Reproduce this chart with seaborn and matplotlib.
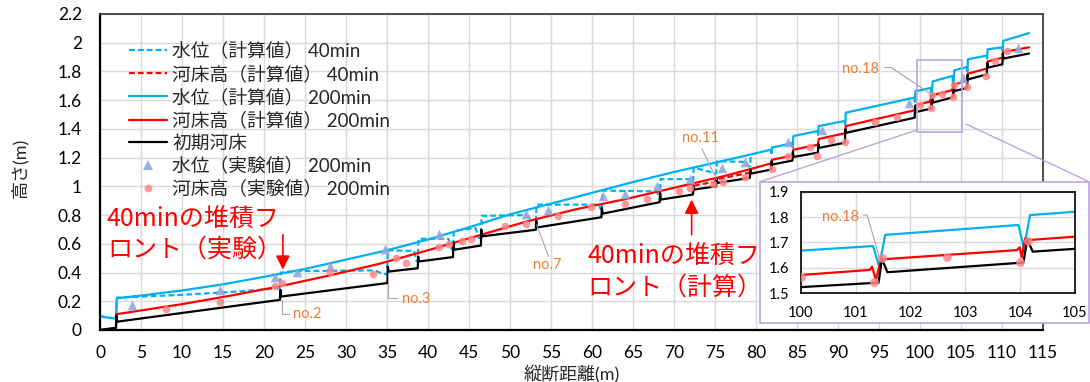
import matplotlib
matplotlib.use("Agg")
import matplotlib.pyplot as plt
from matplotlib.lines import Line2D
from matplotlib.patches import Rectangle
from matplotlib.ticker import FuncFormatter, MultipleLocator
import seaborn as sns

# ---------------- data ----------------
# 初期河床
bed0_x = [0.0, 1.95, 2.0, 2.1, 21.95, 22.0, 22.1, 35.05, 35.1, 35.2, 38.75, 38.8, 38.9,
          43.05, 43.1, 43.2, 46.45, 46.5, 46.6, 53.15, 53.2, 53.3, 61.15, 61.2, 61.3,
          68.25, 68.3, 68.4, 72.3, 72.35, 72.45, 75.15, 75.2, 75.3, 79.25, 79.3, 79.4,
          81.85, 81.9, 82.0, 84.45, 84.5, 84.6, 87.55, 87.6, 87.7, 90.85, 90.9, 91.0,
          99.35, 99.4, 99.5, 101.42, 101.48, 101.58, 104.06, 104.13, 104.23,
          105.75, 105.8, 105.9, 108.15, 108.2, 108.3, 110.05, 110.1, 110.2, 113.3]
bed0_y = [0.000, 0.015, 0.100, 0.058, 0.210, 0.280, 0.233, 0.327, 0.440, 0.407, 0.430, 0.512, 0.477,
          0.508, 0.607, 0.559, 0.588, 0.698, 0.652, 0.698, 0.760, 0.714, 0.785, 0.850, 0.810,
          0.890, 0.955, 0.908, 0.943, 1.000, 0.978, 1.000, 1.055, 1.024, 1.059, 1.115, 1.089,
          1.117, 1.175, 1.152, 1.180, 1.240, 1.205, 1.235, 1.295, 1.268, 1.304, 1.397, 1.373,
          1.478, 1.560, 1.518, 1.542, 1.636, 1.583, 1.621, 1.712, 1.664,
          1.686, 1.775, 1.745, 1.780, 1.860, 1.827, 1.850, 1.925, 1.890, 1.925]

# 河床高（計算値） 200min
bed200_x = [0.0, 1.95, 2.0, 10.0, 16.0, 22.0, 28.0, 34.0, 40.0, 46.0, 52.0, 58.0, 64.0, 70.0, 76.0, 79.3,
            81.85, 81.95, 84.45, 84.55, 87.55, 87.65, 90.85, 90.95, 99.35, 99.45, 100.0,
            101.26, 101.30, 101.37, 101.46, 101.50, 103.94, 103.99, 104.03, 104.09, 104.18, 105.0,
            105.75, 105.85, 108.15, 108.25, 110.05, 110.15, 113.3]
bed200_y = [0.000, 0.015, 0.110, 0.180, 0.240, 0.305, 0.380, 0.460, 0.555, 0.655, 0.755, 0.840, 0.910, 0.990, 1.070, 1.120,
            1.160, 1.185, 1.215, 1.255, 1.290, 1.330, 1.370, 1.420, 1.530, 1.565, 1.572,
            1.592, 1.605, 1.552, 1.631, 1.634, 1.670, 1.681, 1.642, 1.716, 1.710, 1.723,
            1.735, 1.785, 1.820, 1.870, 1.895, 1.935, 1.968]

# 河床高（計算値） 40min (visible part, below the 200min bed)
bed40_x = [72.3, 72.45, 75.15, 75.25, 79.25, 79.35]
bed40_y = [0.943, 1.005, 1.035, 1.050, 1.095, 1.120]

# 水位（計算値） 200min
wl200_x = [0.0, 0.5, 1.95, 2.05, 5.0, 10.0, 15.0, 20.0, 25.0, 30.0, 35.0, 40.0, 45.0, 50.0, 55.0, 60.0, 65.0, 70.0, 75.0, 79.2,
           81.8, 81.88, 81.95, 84.4, 84.48, 84.55, 87.5, 87.58, 87.65, 90.8, 90.88, 90.95, 99.3, 99.38, 99.45, 100.0,
           101.32, 101.43, 101.54, 103.97, 104.07, 104.18, 105.0, 105.7, 105.78, 105.85, 108.1, 108.18, 108.25,
           110.0, 110.08, 110.15, 113.3]
wl200_y = [0.100, 0.090, 0.080, 0.221, 0.240, 0.275, 0.318, 0.370, 0.425, 0.490, 0.555, 0.630, 0.715, 0.805, 0.880, 0.955, 1.030, 1.100, 1.165, 1.220,
           1.255, 1.230, 1.270, 1.300, 1.270, 1.350, 1.385, 1.360, 1.420, 1.455, 1.430, 1.513, 1.618, 1.590, 1.665, 1.668,
           1.686, 1.605, 1.730, 1.769, 1.677, 1.808, 1.821, 1.830, 1.800, 1.885, 1.910, 1.890, 1.955,
           1.967, 1.945, 2.013, 2.067]

# 水位（計算値） 40min
wl40_x = [0.0, 0.5, 1.95, 2.05, 10.0, 16.0, 21.9, 22.05, 24.0, 33.5, 34.5, 35.0, 35.1, 38.3, 38.6, 38.75, 38.85,
          42.5, 42.9, 43.05, 43.15, 45.8, 46.2, 46.45, 46.55, 51.8, 52.6, 53.15, 53.25, 60.9, 61.1, 61.2, 61.25,
          67.9, 68.2, 68.3, 68.35, 72.1, 72.3, 72.4, 75.15, 75.25, 78.8, 79.1, 79.3, 79.35]
wl40_y = [0.100, 0.090, 0.080, 0.225, 0.245, 0.265, 0.290, 0.400, 0.410, 0.415, 0.390, 0.390, 0.555, 0.550, 0.480, 0.480, 0.635,
          0.635, 0.560, 0.560, 0.690, 0.710, 0.640, 0.640, 0.795, 0.800, 0.770, 0.770, 0.873, 0.873, 0.830, 0.830, 0.971,
          0.965, 0.920, 0.920, 1.050, 1.050, 1.000, 1.130, 1.090, 1.175, 1.170, 1.140, 1.140, 1.220]

# 水位（実験値） 200min
tri_x = [3.9, 14.6, 21.3, 24.0, 28.0, 34.8, 41.3, 52.0, 54.6, 61.3, 64.0, 67.9, 72.0, 75.9, 78.6,
         83.9, 88.0, 98.6, 105.3, 112.0]
tri_y = [0.175, 0.280, 0.372, 0.407, 0.447, 0.566, 0.670, 0.810, 0.838, 0.930, 0.945, 1.003, 1.052, 1.129, 1.168,
         1.310, 1.390, 1.580, 1.755, 1.960]

# 河床高（実験値） 200min
cir_x = [8.0, 14.6, 21.3, 22.2, 28.0, 33.3, 36.1, 37.3, 41.3, 42.6, 44.1, 45.3, 49.4, 52.0, 55.9, 59.9,
         64.0, 66.7, 70.6, 72.0, 74.8, 76.0, 78.6,
         81.9, 83.9, 86.6, 87.5, 89.2, 90.9, 94.5, 97.2, 100.0, 101.34, 101.49, 102.66, 103.99, 104.15,
         105.7, 108.1, 109.1, 110.6]
cir_y = [0.147, 0.198, 0.305, 0.326, 0.407, 0.387, 0.500, 0.465, 0.575, 0.598, 0.617, 0.633, 0.722, 0.738, 0.796, 0.854,
         0.875, 0.913, 0.968, 0.990, 1.015, 1.030, 1.065,
         1.120, 1.210, 1.273, 1.210, 1.320, 1.310, 1.448, 1.485, 1.566, 1.543, 1.638, 1.642, 1.622, 1.707,
         1.694, 1.770, 1.870, 1.944]

legend_labels = ["水位（計算値） 40min", "河床高（計算値） 40min", "水位（計算値） 200min",
                 "河床高（計算値） 200min", "初期河床", "水位（実験値） 200min", "河床高（実験値） 200min"]

# ---------------- style ----------------
CYAN = "#00b0f0"
RED = "#ff0000"
BLACK = "#000000"
TRI = "#8eaadb"
CIR = "#ff8585"
PURPLE = "#b9a6dc"
ORANGE = "#ed7d31"
LEADER = "#a6a6a6"

sns.set_theme(style="white")
plt.rcParams["font.family"] = ["Lato", "Noto Sans CJK JP"]
plt.rcParams["axes.unicode_minus"] = False

W, H = 1090, 382
fig = plt.figure(figsize=(W / 100, H / 100), dpi=100)
ax = fig.add_axes([100 / W, 52 / H, 943 / W, 316 / H])


def draw(a, lw=1.6, tri_s=48, cir_s=30):
    sns.lineplot(x=wl40_x, y=wl40_y, ax=a, sort=False, estimator=None, color=CYAN, linewidth=lw)
    a.lines[-1].set_dashes((2.6, 1.4))
    sns.lineplot(x=bed40_x, y=bed40_y, ax=a, sort=False, estimator=None, color=RED, linewidth=lw)
    a.lines[-1].set_dashes((2.6, 1.4))
    sns.lineplot(x=wl200_x, y=wl200_y, ax=a, sort=False, estimator=None, color=CYAN, linewidth=lw)
    sns.lineplot(x=bed200_x, y=bed200_y, ax=a, sort=False, estimator=None, color=RED, linewidth=lw)
    sns.lineplot(x=bed0_x, y=bed0_y, ax=a, sort=False, estimator=None, color=BLACK, linewidth=lw)
    sns.scatterplot(x=tri_x, y=tri_y, ax=a, marker="^", s=tri_s, color=TRI, linewidth=0, alpha=0.9, zorder=4)
    sns.scatterplot(x=cir_x, y=cir_y, ax=a, marker="o", s=cir_s, color=CIR, linewidth=0, alpha=0.85, zorder=4)


draw(ax)

ax.set_xlim(0, 115)
ax.set_ylim(0, 2.2)
ax.xaxis.set_major_locator(MultipleLocator(5))
ax.yaxis.set_major_locator(MultipleLocator(0.2))
ax.yaxis.set_major_formatter(FuncFormatter(lambda v, p: f"{v:g}"))
ax.grid(True, color="#d9d9d9", linewidth=1.0)
ax.set_axisbelow(True)
ax.tick_params(axis="both", length=0, labelsize=12.5, colors="black")
ax.tick_params(axis="y", pad=13)
ax.tick_params(axis="x", pad=11)
for s in ["top", "right"]:
    ax.spines[s].set_color("#404040")
    ax.spines[s].set_linewidth(1.3)
for s in ["bottom", "left"]:
    ax.spines[s].set_color("black")
    ax.spines[s].set_linewidth(1.6)

ax.set_xlabel("縦断距離(m)", fontsize=13)
ax.set_ylabel("高さ(m)", fontsize=13)
ax.xaxis.label.set_va("center")
ax.yaxis.label.set_va("center")
ax.xaxis.set_label_coords(0.5, -0.137)
ax.yaxis.set_label_coords(-0.085, 0.513)

# legend
handles = [
    Line2D([], [], color=CYAN, lw=1.6, dashes=(2.6, 1.4)),
    Line2D([], [], color=RED, lw=1.6, dashes=(2.6, 1.4)),
    Line2D([], [], color=CYAN, lw=1.6),
    Line2D([], [], color=RED, lw=1.6),
    Line2D([], [], color=BLACK, lw=1.6),
    Line2D([], [], ls="none", marker="^", ms=7, color=TRI, alpha=0.9, mew=0),
    Line2D([], [], ls="none", marker="o", ms=5.5, color=CIR, alpha=0.85, mew=0),
]
ax.legend(handles, legend_labels, loc="upper left", bbox_to_anchor=(0.031, 0.913), frameon=False,
          handlelength=2.0, handletextpad=0.3, labelspacing=0.28, borderpad=0, borderaxespad=0,
          prop={"size": 13.5})

# structure labels (no.X) with leader lines
lab_kw = dict(color=ORANGE, fontsize=10.5, va="center")
ax.plot([22.15, 22.15, 23.0], [0.21, 0.112, 0.112], color=LEADER, lw=0.8)
ax.text(23.5, 0.112, "no.2", ha="left", **lab_kw)
ax.plot([35.15, 35.15, 36.2], [0.40, 0.221, 0.221], color=LEADER, lw=0.8)
ax.text(36.8, 0.214, "no.3", ha="left", **lab_kw)
ax.plot([53.25, 54.7], [0.733, 0.512], color=LEADER, lw=0.8)
ax.text(54.6, 0.454, "no.7", ha="center", **lab_kw)
ax.plot([73.4, 75.2], [1.262, 1.047], color=LEADER, lw=0.8)
ax.text(73.2, 1.339, "no.11", ha="center", **lab_kw)
ax.plot([95.7, 96.5, 101.4], [1.827, 1.827, 1.64], color=LEADER, lw=0.8)
ax.text(92.8, 1.82, "no.18", ha="center", **lab_kw)

# deposition front annotations
red_kw = dict(color=RED, fontsize=18, family=["Noto Sans CJK JP"], va="center", ha="left")
ax.text(0.85, 0.663, "40minの堆積フ\nロント（実験）", linespacing=1.15, **red_kw)
ax.annotate("", xy=(22.3, 0.42), xytext=(22.3, 0.663),
            arrowprops=dict(arrowstyle="-|>,head_length=0.6,head_width=0.3", color=RED, lw=1.2,
                            mutation_scale=14, shrinkA=0, shrinkB=0))
ax.text(59.4, 0.402, "40minの堆積フ\nロント（計算）", linespacing=1.25, **red_kw)
ax.annotate("", xy=(72.15, 0.908), xytext=(72.15, 0.663),
            arrowprops=dict(arrowstyle="-|>,head_length=0.6,head_width=0.3", color=RED, lw=1.2,
                            mutation_scale=14, shrinkA=0, shrinkB=0))

# zoom box in main axes
ax.add_patch(Rectangle((99.6, 1.38), 5.5, 0.5, fill=False, ec=PURPLE, lw=1.2, zorder=6))

# connectors and inset frame (figure coordinates)
fig.add_artist(Line2D([917 / W, 760 / W], [1 - 130 / H, 1 - 181.7 / H], transform=fig.transFigure,
                      color=PURPLE, lw=1.0, zorder=2))
fig.add_artist(Line2D([966 / W, 1089 / W], [1 - 124 / H, 1 - 181.7 / H], transform=fig.transFigure,
                      color=PURPLE, lw=1.0, zorder=2))
fig.add_artist(Rectangle((760 / W, 1 - 323.3 / H), (1089 - 760) / W, (323.3 - 181.7) / H,
                         transform=fig.transFigure, fc="white", ec=PURPLE, lw=1.2, zorder=3))

# inset
axin = fig.add_axes([800.7 / W, 1 - 293.3 / H, 274.3 / W, 101.6 / H])
axin.set_zorder(5)
draw(axin, lw=1.6, tri_s=48, cir_s=40)
axin.set_xlim(100, 105)
axin.set_ylim(1.5, 1.9)
axin.xaxis.set_major_locator(MultipleLocator(1))
axin.yaxis.set_major_locator(MultipleLocator(0.1))
axin.yaxis.set_major_formatter(FuncFormatter(lambda v, p: f"{v:.1f}"))
axin.grid(True, color="#d9d9d9", linewidth=1.0)
axin.set_axisbelow(True)
axin.tick_params(axis="both", length=0, labelsize=10.5, colors="black")
axin.tick_params(axis="y", pad=8)
axin.tick_params(axis="x", pad=9)
for s in axin.spines.values():
    s.set_color("black")
    s.set_linewidth(1.2)
axin.set_xlabel("")
axin.set_ylabel("")
axin.plot([101.14, 101.21, 101.44], [1.808, 1.808, 1.638], color=LEADER, lw=0.8)
axin.text(100.73, 1.80, "no.18", ha="center", **lab_kw)

fig.savefig("out.png", dpi=100)
